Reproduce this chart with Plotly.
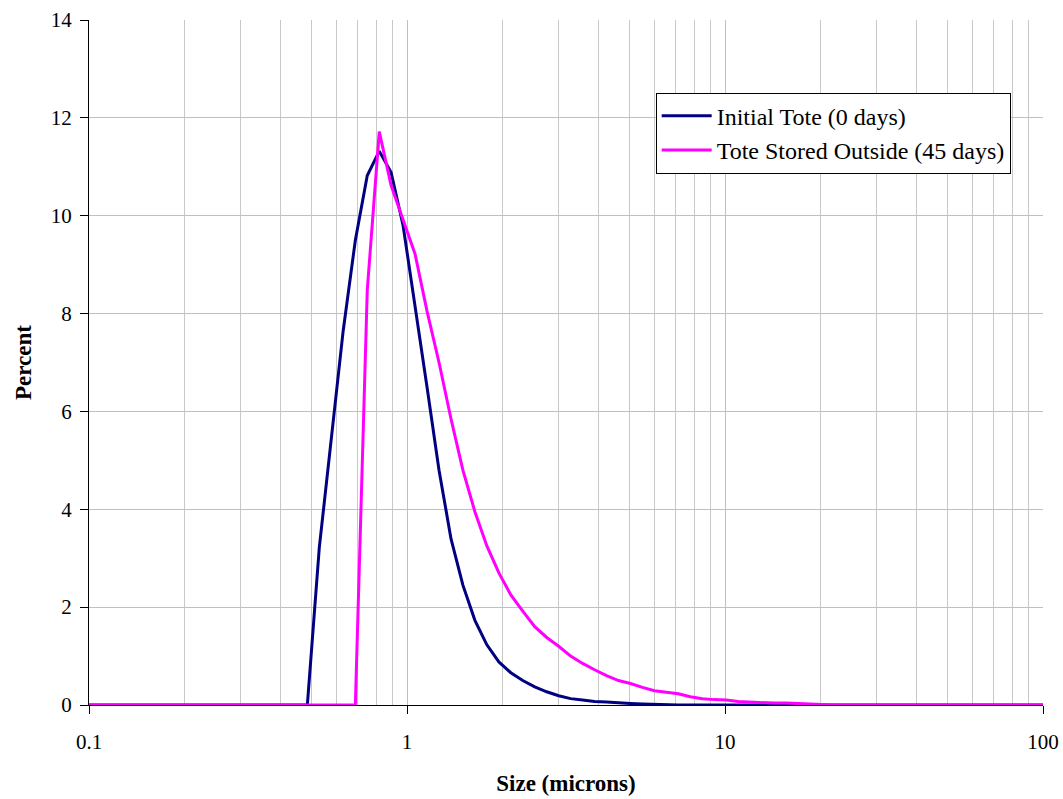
import plotly.graph_objects as go

# Particle size channels (microns)
sizes = [0.094, 0.102, 0.112, 0.122, 0.133, 0.145, 0.158, 0.172, 0.187, 0.204,
         0.223, 0.243, 0.265, 0.289, 0.315, 0.344, 0.375, 0.409, 0.446, 0.486,
         0.530, 0.578, 0.630, 0.688, 0.750, 0.818, 0.891, 0.972, 1.060, 1.156,
         1.261, 1.375, 1.499, 1.635, 1.783, 1.945, 2.121, 2.312, 2.522, 2.750,
         2.999, 3.270, 3.566, 3.889, 4.241, 4.625, 5.044, 5.500, 5.998, 6.541,
         7.133, 7.778, 8.482, 9.250, 10.09, 11.00, 12.00, 13.08, 14.27, 15.56,
         16.96, 18.50, 20.17, 22.00, 23.99, 26.16, 28.53, 31.11, 33.93, 37.00,
         40.35, 44.00, 47.98, 52.33, 57.06, 62.23, 67.86, 74.00, 80.70, 88.00,
         95.96, 104.7]

initial_tote = [0, 0, 0, 0, 0, 0, 0, 0, 0, 0,
                0, 0, 0, 0, 0, 0, 0, 0, 0, 0,
                3.22, 5.45, 7.65, 9.50, 10.82, 11.32, 10.89, 9.80, 8.20, 6.50,
                4.80, 3.40, 2.45, 1.73, 1.23, 0.88, 0.66, 0.50, 0.37, 0.27,
                0.19, 0.13, 0.10, 0.07, 0.06, 0.04, 0.03, 0.02, 0.01, 0,
                0, 0, 0, 0, 0, 0, 0, 0, 0, 0,
                0, 0, 0, 0, 0, 0, 0, 0, 0, 0,
                0, 0, 0, 0, 0, 0, 0, 0, 0, 0,
                0, 0]

stored_outside = [0, 0, 0, 0, 0, 0, 0, 0, 0, 0,
                  0, 0, 0, 0, 0, 0, 0, 0, 0, 0,
                  0, 0, 0, 0, 8.48, 11.72, 10.62, 9.90, 9.22, 8.05,
                  7.00, 5.85, 4.80, 3.95, 3.25, 2.70, 2.25, 1.92, 1.60, 1.38,
                  1.20, 1.00, 0.85, 0.72, 0.60, 0.50, 0.44, 0.36, 0.29, 0.26,
                  0.23, 0.17, 0.13, 0.11, 0.10, 0.07, 0.06, 0.04, 0.04, 0.04,
                  0.03, 0.01, 0, 0, 0, 0, 0, 0, 0, 0,
                  0, 0, 0, 0, 0, 0, 0, 0, 0, 0,
                  0, 0]

x_tickvals = [0.1, 1, 10, 100]
x_ticktext = ["0.1", "1", "10", "100"]
x_minor = [0.2, 0.3, 0.4, 0.5, 0.6, 0.7, 0.8, 0.9,
           2, 3, 4, 5, 6, 7, 8, 9,
           20, 30, 40, 50, 60, 70, 80, 90]

series_names = ["Initial Tote (0 days)", "Tote Stored Outside (45 days)"]

FONT = "Liberation Serif, Times New Roman, serif"

fig = go.Figure()
fig.add_trace(go.Scatter(x=sizes, y=initial_tote, mode="lines", name=series_names[0],
                         legendgroup="a",
                         line=dict(color="#000080", width=3)))
fig.add_trace(go.Scatter(x=sizes, y=stored_outside, mode="lines", name=series_names[1],
                         legendgroup="b",
                         line=dict(color="#FF00FF", width=3)))

fig.update_layout(
    width=1063, height=799,
    margin=dict(l=89, r=20, t=20, b=94, autoexpand=False),
    paper_bgcolor="white", plot_bgcolor="white",
    font=dict(family=FONT, size=21, color="black"),
    showlegend=True,
    legend=dict(x=0.594, y=0.894, xanchor="left", yanchor="top",
                bgcolor="white", bordercolor="black", borderwidth=1,
                font=dict(family=FONT, size=24, color="black"),
                itemwidth=50, tracegroupgap=0),
)

fig.update_xaxes(
    type="log", range=[-1, 2],
    tickvals=x_tickvals, ticktext=x_ticktext,
    showline=True, linecolor="black", linewidth=1,
    ticks="outside", ticklen=8, tickcolor="black",
    ticklabelstandoff=10, ticklabeloverflow="allow",
    showgrid=True, gridcolor="#c0c0c0", gridwidth=1,
    minor=dict(tickvals=x_minor, showgrid=True, gridcolor="#c8c8c8", ticks=""),
    zeroline=False,
    tickfont=dict(family=FONT, size=21),
    title=dict(text="<b>Size (microns)</b>", font=dict(family=FONT, size=23), standoff=21),
    automargin=False,
)
fig.update_yaxes(
    range=[0, 14], dtick=2, tick0=0,
    showline=True, linecolor="black", linewidth=1,
    ticks="outside", ticklen=8, tickcolor="black",
    ticklabelstandoff=4,
    showgrid=True, gridcolor="#c0c0c0", gridwidth=1,
    zeroline=False,
    tickfont=dict(family=FONT, size=21),
    title=dict(text="<b>Percent</b>", font=dict(family=FONT, size=23), standoff=12),
    automargin=False,
)

fig.write_html(
    "out.html",
    config={"displayModeBar": False},
    post_script="document.body.style.margin='0';document.body.style.overflow='hidden';",
)
